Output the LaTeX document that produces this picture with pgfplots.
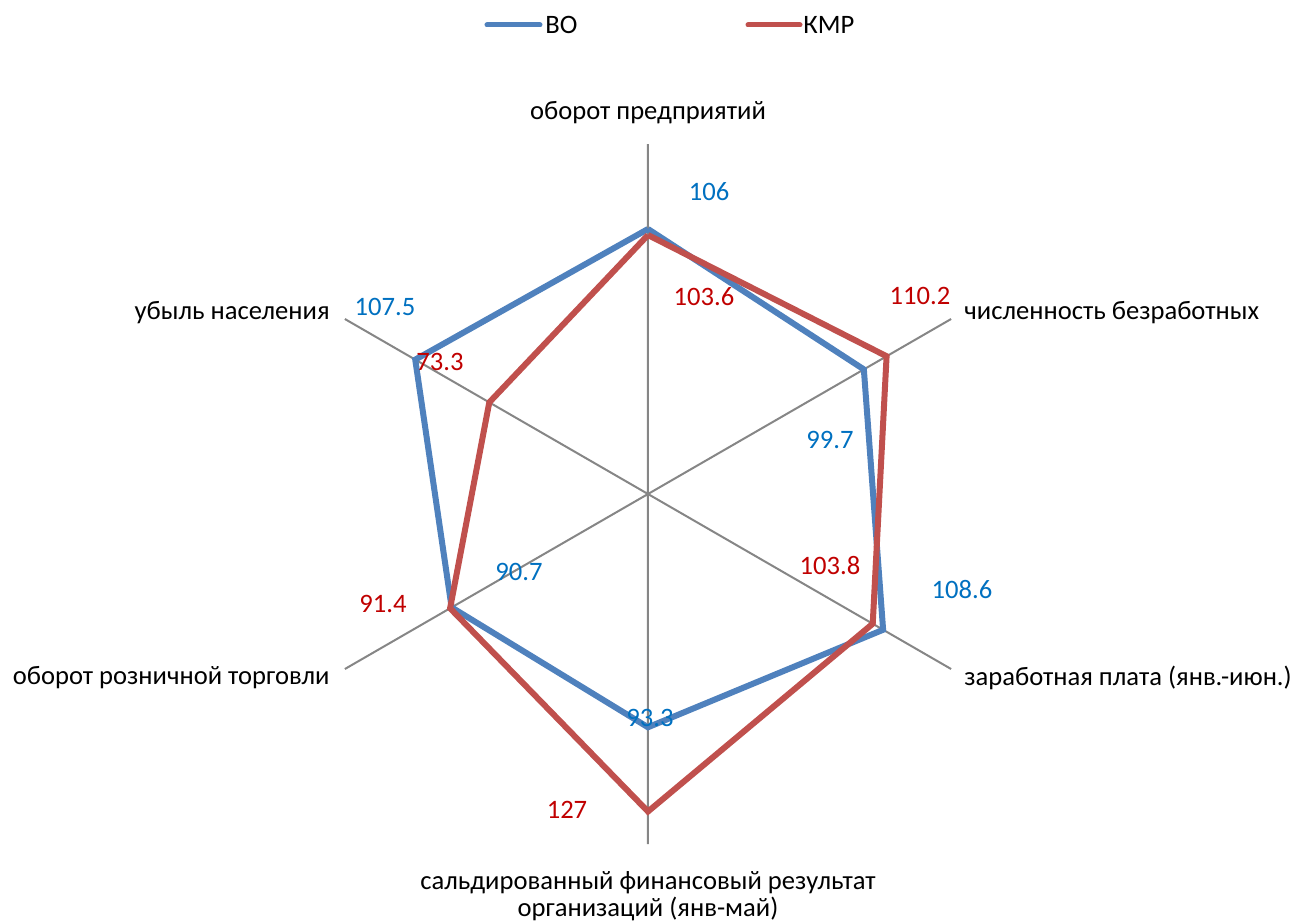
\documentclass[border=0pt]{standalone}
\usepackage{pgfplots}
\pgfplotsset{compat=1.18}
\usepgfplotslibrary{polar}
\usepackage{fontspec}
\setmainfont{Carlito}
\definecolor{vo}{HTML}{4F81BD}
\definecolor{kmp}{HTML}{C0504D}
\definecolor{volab}{HTML}{0070C0}
\definecolor{kmplab}{HTML}{C00000}
\definecolor{spoke}{HTML}{868686}
\begin{document}
\begin{tikzpicture}[font=\fontsize{13.3}{13.5}\selectfont]
\path[use as bounding box] (-324pt,-214pt) rectangle (323.5pt,247pt);
\begin{polaraxis}[
  at={(0pt,0pt)}, anchor=origin,
  scale only axis, width=350pt, height=350pt,
  ymin=0, ymax=140,
  xtick={30,90,150,210,270,330},
  xticklabels={,,,,,},
  xticklabel style={opacity=0},
  ytick=\empty,
  xmajorgrids, ymajorgrids=false,
  major grid style={color=spoke, line width=1pt},
  major tick length=0pt,
  axis line style={draw=none},
  clip=false,
]
\addplot[vo, line width=3pt, line join=miter] coordinates {(90,106) (30,99.7) (330,108.6) (270,93.3) (210,90.7) (150,107.5) (90,106)};
\addplot[kmp, line width=3pt, line join=miter] coordinates {(90,103.6) (30,110.2) (330,103.8) (270,127) (210,91.4) (150,73.3) (90,103.6)};
\end{polaraxis}
\begin{scope}
% legend
\draw[vo, line width=2.5pt, line cap=round] (-80.5pt,234.5pt) -- (-54pt,234.5pt);
\node[anchor=west, inner sep=0pt] at (-51.5pt,234.5pt) {ВО};
\draw[kmp, line width=2.5pt, line cap=round] (50pt,234.5pt) -- (76pt,234.5pt);
\node[anchor=west, inner sep=0pt] at (77.5pt,234.5pt) {КМР};
% categories
\node[inner sep=0pt] at (0pt,190.5pt) {оборот предприятий};
\node[anchor=west, inner sep=0pt] at (158pt,90.5pt) {численность безработных};
\node[anchor=west, inner sep=0pt] at (158pt,-92pt) {заработная плата (янв.-июн.)};
\node[align=center, inner sep=0pt] at (0pt,-201pt) {сальдированный финансовый результат\\организаций (янв-май)};
\node[anchor=east, inner sep=0pt] at (-159pt,-92pt) {оборот розничной торговли};
\node[anchor=east, inner sep=0pt] at (-159pt,90.5pt) {убыль населения};
% data labels
\node[volab, inner sep=0pt] at (30.5pt,151pt) {106};
\node[kmplab, inner sep=0pt] at (28pt,98.5pt) {103.6};
\node[kmplab, inner sep=0pt] at (136pt,99pt) {110.2};
\node[volab, inner sep=0pt] at (91pt,27pt) {99.7};
\node[kmplab, inner sep=0pt] at (91pt,-36pt) {103.8};
\node[volab, inner sep=0pt] at (157pt,-48pt) {108.6};
\node[kmplab, inner sep=0pt] at (-40.5pt,-158pt) {127};
\node[volab, inner sep=0pt] at (1pt,-112pt) {93.3};
\node[volab, inner sep=0pt] at (-64.5pt,-39pt) {90.7};
\node[kmplab, inner sep=0pt] at (-132.5pt,-55pt) {91.4};
\node[kmplab, inner sep=0pt] at (-104pt,66pt) {73.3};
\node[volab, inner sep=0pt] at (-131.5pt,93.5pt) {107.5};
\end{scope}
\end{tikzpicture}
\end{document}
